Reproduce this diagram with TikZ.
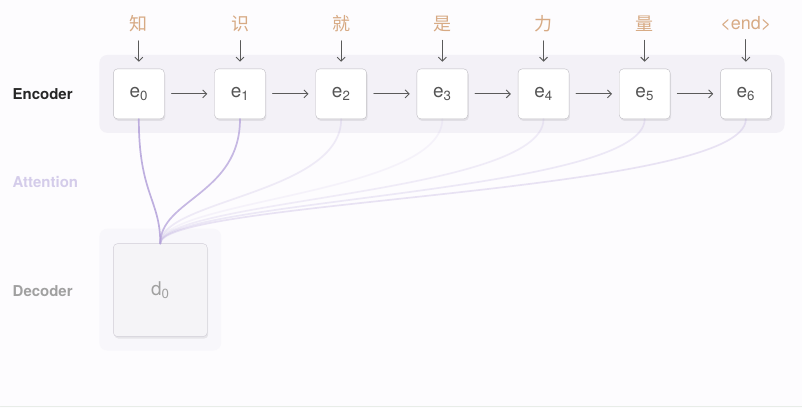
\documentclass[tikz,border=0pt]{standalone}
\usepackage{fontspec}
\setmainfont{TeX Gyre Heros}
\newfontfamily\cjk{Noto Sans CJK SC}
\usetikzlibrary{shadows,arrows.meta}
\definecolor{bgc}{RGB}{253,252,254}
\definecolor{bandc}{RGB}{243,241,247}
\definecolor{dbandc}{RGB}{248,247,251}
\definecolor{boxline}{RGB}{190,188,194}
\definecolor{etext}{RGB}{85,85,85}
\definecolor{wordc}{RGB}{215,170,132}
\definecolor{arrc}{RGB}{90,90,90}
\definecolor{attnc}{RGB}{180,162,218}
\definecolor{attlab}{RGB}{212,204,234}
\definecolor{declab}{RGB}{160,160,160}
\definecolor{dboxc}{RGB}{245,244,247}
\definecolor{dline}{RGB}{208,205,214}
\definecolor{botline}{RGB}{232,237,232}
\begin{document}
\begin{tikzpicture}[x=1pt, y=-1pt, line join=round, line cap=round, >={Straight Barb[length=4pt, width=8pt]},
  ebox/.style={draw=boxline, fill=white, rounded corners=4pt, minimum width=51pt, minimum height=50pt, inner sep=0pt, text=etext, font=\fontsize{19}{19}\selectfont, drop shadow={shadow xshift=1pt, shadow yshift=-2pt, fill=black, opacity=0.07}},
  word/.style={text=wordc, font=\fontsize{18}{18}\selectfont},
  side/.style={anchor=west, inner sep=0pt, font=\fontsize{15}{15}\selectfont\bfseries},
  arr/.style={->, draw=arrc, line width=0.9pt},
  attn/.style={draw=attnc, line width=1.7pt}]
\fill[bgc] (0,0) rectangle (802,409);
\draw[botline, line width=1pt] (0,407.5) -- (802,407.5);
% bands
\fill[bandc, rounded corners=8pt] (99,55) rectangle (785,133);
\fill[dbandc, rounded corners=8pt] (99,229) rectangle (221,351);
% side labels
\node[side, text=black!85] (enc) at (12,94) {Encoder};
\node[side, text=attlab] (att) at (12,182) {Attention};
\node[side, text=declab] (dec) at (12,291) {Decoder};
% encoder states and input words
\foreach \i/\w in {0/{\cjk 知}, 1/{\cjk 识}, 2/{\cjk 就}, 3/{\cjk 是}, 4/{\cjk 力}, 5/{\cjk 量}, 6/{<end>}}{
  \node[ebox] (e\i) at (138.5+101.3*\i,94) {e\textsubscript{\i}};
  \node[word] (w\i) at (138.5+101.3*\i,24) {\w};
  \draw[arr, shorten <=5pt, shorten >=7pt] (w\i.south) -- (e\i.north);
}
\foreach \i [evaluate=\i as \j using int(\i+1)] in {0,...,5}
  \draw[arr, shorten <=7pt, shorten >=7pt] (e\i.east) -- (e\j.west);
% decoder state
\node[ebox, minimum width=94pt, minimum height=93pt, fill=dboxc, draw=dline, text=declab] (d0) at (160,290.5) {d\textsubscript{0}};
% attention weights
\foreach \i/\op in {0/0.85, 1/0.75, 2/0.2, 3/0.1, 4/0.18, 5/0.22, 6/0.28}
  \draw[attn, opacity=\op] (e\i.south) .. controls +(0,75) and (160,200) .. (d0.north);
\end{tikzpicture}
\end{document}
